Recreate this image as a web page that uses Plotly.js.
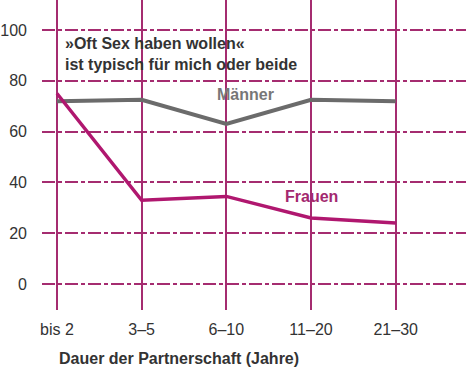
<!DOCTYPE html>
<html><head><meta charset="utf-8">
<script src="https://cdn.plot.ly/plotly-3.0.1.min.js"></script>
<style>html,body{margin:0;padding:0;background:#fff}#c{width:466px;height:371px}</style>
</head><body><div id="c"></div>
<script>
const categories = ["bis 2", "3–5", "6–10", "11–20", "21–30"];
const maenner = [72, 72.5, 63, 72.5, 72];
const frauen = [75, 33, 34.5, 26, 24];
const yTicks = [0, 20, 40, 60, 80, 100];
const xIdx = categories.map((c, i) => i);

const grid = "#a52c70";
const traces = [
  {x: xIdx, y: maenner, mode: "lines", line: {color: "#6b6b6b", width: 4}, hoverinfo: "skip"},
  {x: xIdx, y: frauen, mode: "lines", line: {color: "#b0176f", width: 3.5}, hoverinfo: "skip"}
];
const layout = {
  width: 466, height: 371,
  margin: {l: 42, r: 0, t: 0, b: 61},
  paper_bgcolor: "#fff", plot_bgcolor: "#fff",
  showlegend: false,
  font: {family: "Liberation Sans, Arial, sans-serif", color: "#333", size: 16},
  xaxis: {
    range: [-0.177, 4.83], tickvals: xIdx, ticktext: categories,
    showgrid: true, gridcolor: grid, gridwidth: 2, zeroline: false,
    showline: false, ticks: "", ticklabelstandoff: 8,
    tickfont: {size: 16, color: "#333"}
  },
  yaxis: {
    range: [-10.2, 111.8], tickvals: yTicks, ticktext: yTicks.map(String),
    showgrid: true, gridcolor: grid, gridwidth: 2, griddash: "13px,3px,4px,3px",
    zeroline: false, showline: false, ticks: "", ticklabelstandoff: 14,
    tickfont: {size: 16, color: "#333"}
  },
  annotations: [
    {xref: "paper", yref: "paper", x: 0.05, y: 0.892, xanchor: "left", yanchor: "top", align: "left",
     showarrow: false, text: "<b>»Oft Sex haben wollen«<br>ist typisch für mich oder beide</b>",
     font: {size: 16, color: "#333"}},
    {x: 2.23, y: 74.5, xref: "x", yref: "y", showarrow: false, text: "<b>Männer</b>",
     font: {size: 16, color: "#777"}},
    {x: 3.0, y: 34.5, xref: "x", yref: "y", showarrow: false, text: "<b>Frauen</b>",
     font: {size: 16, color: "#a3286f"}},
    {xref: "paper", yref: "paper", x: 0.035, y: -0.155, xanchor: "left", yanchor: "middle",
     showarrow: false, text: "<b>Dauer der Partnerschaft (Jahre)</b>",
     font: {size: 16, color: "#333"}}
  ]
};
Plotly.newPlot("c", traces, layout, {displayModeBar: false, staticPlot: true});
</script></body></html>
